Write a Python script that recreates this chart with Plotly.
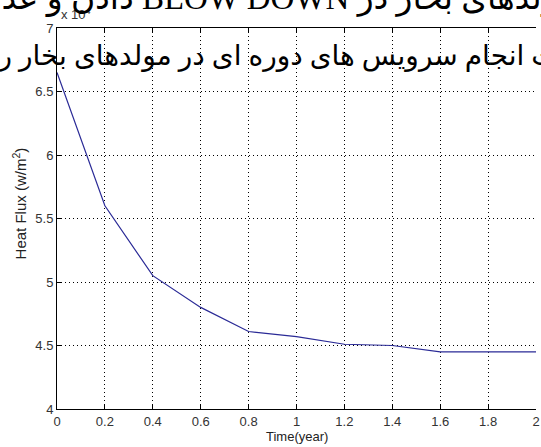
import plotly.graph_objects as go

# Data
time_year = [0, 0.2, 0.4, 0.6, 0.8, 1.0, 1.2, 1.4, 1.6, 1.8, 2.0]
heat_flux = [66500, 56000, 50500, 48000, 46100, 45700, 45100, 45000, 44500, 44500, 44500]

x_ticks = [0, 0.2, 0.4, 0.6, 0.8, 1, 1.2, 1.4, 1.6, 1.8, 2]
x_tick_labels = ["0", "0.2", "0.4", "0.6", "0.8", "1", "1.2", "1.4", "1.6", "1.8", "2"]
y_ticks = [40000, 45000, 50000, 55000, 60000, 65000, 70000]
y_tick_labels = ["4", "4.5", "5", "5.5", "6", "6.5", "7"]

title_line1 = "دادن و عدم BLOW DOWN درون مولدهای بخار در"
title_line2 = "صورت انجام سرویس های دوره ای در مولدهای بخار روی"

fig = go.Figure()
fig.add_trace(go.Scatter(
    x=time_year, y=heat_flux, mode="lines",
    line=dict(color="#2a2a96", width=1.2),
    showlegend=False, hoverinfo="skip",
))

tick_font = dict(family="Liberation Sans, Arial, sans-serif", size=13, color="#333333")

fig.update_layout(
    width=541, height=447,
    margin=dict(l=57, r=1, t=28, b=38),
    paper_bgcolor="white", plot_bgcolor="white",
    xaxis=dict(
        range=[0, 2], tickvals=x_ticks, ticktext=x_tick_labels,
        showline=True, linecolor="black", linewidth=1, mirror="ticks",
        ticks="inside", ticklen=5, tickcolor="black",
        showgrid=True, gridcolor="black", gridwidth=1, griddash="1px,3px",
        zeroline=False, tickfont=tick_font, ticklabeloverflow="allow",
    ),
    yaxis=dict(
        range=[40000, 70000], tickvals=y_ticks, ticktext=y_tick_labels,
        showline=True, linecolor="black", linewidth=1, mirror=False,
        ticks="inside", ticklen=5, tickcolor="black",
        showgrid=True, gridcolor="black", gridwidth=1, griddash="1px,3px",
        zeroline=False, tickfont=tick_font,
    ),
    annotations=[
        dict(text="x 10<sup>4</sup>", xref="paper", yref="paper",
             x=0.004, y=1.036, xanchor="left", yanchor="middle", showarrow=False,
             font=dict(family="Liberation Sans, Arial, sans-serif", size=13, color="#333333")),
        dict(text="Time(year)", xref="paper", yref="paper",
             x=0.5, y=-0.073, xanchor="center", yanchor="middle", showarrow=False,
             font=dict(family="Liberation Sans, Arial, sans-serif", size=13, color="#222222")),
        dict(text="Heat Flux (w/m<sup>2</sup>)", xref="paper", yref="paper",
             x=-0.079, y=0.54, xanchor="center", yanchor="middle", showarrow=False,
             textangle=-90,
             font=dict(family="Liberation Sans, Arial, sans-serif", size=15, color="#222222")),
        dict(text=title_line1, xref="paper", yref="paper",
             x=0.545, y=1.078, xanchor="center", yanchor="middle", showarrow=False,
             font=dict(family="Liberation Serif, DejaVu Sans, serif", size=33, color="black")),
        dict(text=title_line2, xref="paper", yref="paper",
             x=0.478, y=0.9265, xanchor="center", yanchor="middle", showarrow=False,
             font=dict(family="Liberation Serif, DejaVu Sans, serif", size=28, color="black")),
    ],
)

fig.write_html("out.html")
